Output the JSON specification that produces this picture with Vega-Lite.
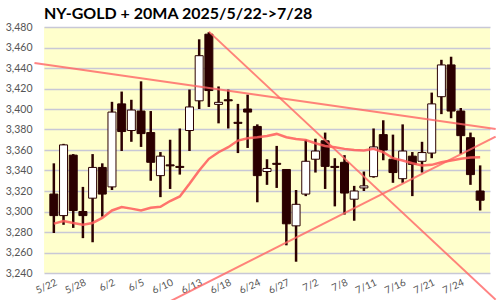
{
  "$schema": "https://vega.github.io/schema/vega-lite/v6.json",
  "width": 446,
  "height": 246,
  "autosize": {"type": "none"},
  "padding": {"left": 44, "top": 27, "right": 10, "bottom": 27},
  "background": "white",
  "title": {"text": "NY-GOLD + 20MA 2025/5/22->7/28", "anchor": "start", "frame": "group", "fontSize": 16, "fontWeight": "bold", "font": "Lato", "color": "#000000", "offset": 0},
  "config": {
    "view": {"fill": "#FFFFCC", "stroke": null},
    "axis": {"labelFont": "Lato", "labelFontSize": 11, "labelColor": "#555555", "ticks": false, "domain": false, "title": null},
    "axisX": {"labelAngle": -25, "labelAlign": "right", "labelBaseline": "top", "labelPadding": 4, "labelFontSize": 10, "labelOverlap": false, "labelBound": false, "grid": false},
    "axisY": {"grid": true, "gridColor": "#c8c8d6", "gridWidth": 1.5, "labelPadding": 12, "labelOverlap": false, "labelFontSize": 10.5}
  },
  "datasets": {
    "candles": [
      {"i": 0, "d": "5/22", "o": 3317, "h": 3347, "l": 3279, "c": 3296, "ma": 3288.2},
      {"i": 1, "d": "5/23", "o": 3296, "h": 3366, "l": 3287, "c": 3365, "ma": 3290.8},
      {"i": 2, "d": "5/27", "o": 3355, "h": 3356, "l": 3284, "c": 3301, "ma": 3288.8},
      {"i": 3, "d": "5/28", "o": 3300, "h": 3324, "l": 3274, "c": 3296, "ma": 3287.2},
      {"i": 4, "d": "5/29", "o": 3313, "h": 3356, "l": 3270, "c": 3343, "ma": 3288.8},
      {"i": 5, "d": "5/30", "o": 3343, "h": 3347, "l": 3295, "c": 3317, "ma": 3293.7},
      {"i": 6, "d": "6/2", "o": 3324, "h": 3407, "l": 3321, "c": 3397, "ma": 3301},
      {"i": 7, "d": "6/3", "o": 3405, "h": 3417, "l": 3359, "c": 3378, "ma": 3304.4},
      {"i": 8, "d": "6/4", "o": 3379, "h": 3409, "l": 3368, "c": 3399, "ma": 3302.8},
      {"i": 9, "d": "6/5", "o": 3398, "h": 3427, "l": 3363, "c": 3376, "ma": 3301},
      {"i": 10, "d": "6/6", "o": 3377, "h": 3398, "l": 3330, "c": 3348, "ma": 3303.7},
      {"i": 11, "d": "6/9", "o": 3335, "h": 3358, "l": 3314, "c": 3354, "ma": 3304.6},
      {"i": 12, "d": "6/10", "o": 3345.5, "h": 3370, "l": 3322, "c": 3344.5, "ma": 3310.2},
      {"i": 13, "d": "6/11", "o": 3344, "h": 3381, "l": 3336, "c": 3343, "ma": 3314.7},
      {"i": 14, "d": "6/12", "o": 3379, "h": 3419, "l": 3359, "c": 3402, "ma": 3327},
      {"i": 15, "d": "6/13", "o": 3408, "h": 3468, "l": 3400, "c": 3452, "ma": 3340},
      {"i": 16, "d": "6/16", "o": 3473, "h": 3475, "l": 3402, "c": 3418, "ma": 3351.4},
      {"i": 17, "d": "6/17", "o": 3404.5, "h": 3422, "l": 3386, "c": 3406.5, "ma": 3357.8},
      {"i": 18, "d": "6/18", "o": 3409, "h": 3419, "l": 3381, "c": 3408, "ma": 3362.7},
      {"i": 19, "d": "6/20", "o": 3387, "h": 3405, "l": 3357, "c": 3386, "ma": 3369.2},
      {"i": 20, "d": "6/23", "o": 3400, "h": 3414, "l": 3362, "c": 3397, "ma": 3371.4},
      {"i": 21, "d": "6/24", "o": 3383, "h": 3385, "l": 3309, "c": 3335, "ma": 3372.4},
      {"i": 22, "d": "6/25", "o": 3339, "h": 3351, "l": 3326, "c": 3342, "ma": 3373.7},
      {"i": 23, "d": "6/26", "o": 3347, "h": 3364, "l": 3323, "c": 3346, "ma": 3375.7},
      {"i": 24, "d": "6/27", "o": 3341, "h": 3341, "l": 3267, "c": 3288, "ma": 3372.4},
      {"i": 25, "d": "6/30", "o": 3286, "h": 3321, "l": 3251, "c": 3307, "ma": 3370.8},
      {"i": 26, "d": "7/1", "o": 3317, "h": 3370, "l": 3315, "c": 3349, "ma": 3369.8},
      {"i": 27, "d": "7/2", "o": 3351, "h": 3371, "l": 3338, "c": 3359, "ma": 3366.6},
      {"i": 28, "d": "7/3", "o": 3369, "h": 3377, "l": 3322, "c": 3344, "ma": 3364},
      {"i": 29, "d": "7/7", "o": 3344, "h": 3352, "l": 3305, "c": 3343, "ma": 3362.7},
      {"i": 30, "d": "7/8", "o": 3348, "h": 3355, "l": 3297, "c": 3318, "ma": 3361.1},
      {"i": 31, "d": "7/9", "o": 3312, "h": 3325, "l": 3291, "c": 3320, "ma": 3360.1},
      {"i": 32, "d": "7/10", "o": 3323, "h": 3339, "l": 3320, "c": 3325, "ma": 3359.5},
      {"i": 33, "d": "7/11", "o": 3334, "h": 3381, "l": 3333, "c": 3363, "ma": 3361.1},
      {"i": 34, "d": "7/14", "o": 3375, "h": 3389, "l": 3350, "c": 3360, "ma": 3357.8},
      {"i": 35, "d": "7/15", "o": 3351, "h": 3375, "l": 3328, "c": 3338, "ma": 3352},
      {"i": 36, "d": "7/16", "o": 3332, "h": 3385, "l": 3328, "c": 3359, "ma": 3349.7},
      {"i": 37, "d": "7/17", "o": 3354, "h": 3358, "l": 3315, "c": 3346, "ma": 3347.1},
      {"i": 38, "d": "7/18", "o": 3349, "h": 3368, "l": 3338, "c": 3357.5, "ma": 3344.9},
      {"i": 39, "d": "7/21", "o": 3357, "h": 3416, "l": 3352, "c": 3405, "ma": 3345.5},
      {"i": 40, "d": "7/22", "o": 3412, "h": 3448, "l": 3395, "c": 3443, "ma": 3348.1},
      {"i": 41, "d": "7/23", "o": 3443, "h": 3451, "l": 3391, "c": 3398, "ma": 3349.7},
      {"i": 42, "d": "7/24", "o": 3398, "h": 3401, "l": 3356, "c": 3374, "ma": 3351.4},
      {"i": 43, "d": "7/25", "o": 3372, "h": 3377, "l": 3326, "c": 3336, "ma": 3352.7},
      {"i": 44, "d": "7/28", "o": 3320, "h": 3345, "l": 3301, "c": 3311, "ma": 3353}
    ],
    "trend": [
      {"line": "A", "i": -2.0, "v": 3444.9},
      {"line": "A", "i": 45.6, "v": 3380.4},
      {"line": "B", "i": 16, "v": 3475.5},
      {"line": "B", "i": 45.6, "v": 3214},
      {"line": "C", "i": 11.5, "v": 3210},
      {"line": "C", "i": 45.6, "v": 3373}
    ]
  },
  "layer": [
    {
      "data": {"name": "candles"},
      "mark": {"type": "rule", "color": "#2b0000", "strokeWidth": 2.5},
      "encoding": {
        "x": {"field": "i", "type": "quantitative", "scale": {"domain": [-0.5, 44.5], "nice": false, "zero": false},
          "axis": {"values": [0, 3, 6, 9, 12, 15, 18, 21, 24, 27, 30, 33, 36, 39, 42], "labelOverlap": false, "labelExpr": "['5/22','5/28','6/2','6/5','6/10','6/13','6/18','6/24','6/27','7/2','7/8','7/11','7/16','7/21','7/24'][round(datum.value/3)]"}},
        "y": {"field": "l", "type": "quantitative", "scale": {"domain": [3240, 3480], "nice": false, "zero": false},
          "axis": {"values": [3240, 3260, 3280, 3300, 3320, 3340, 3360, 3380, 3400, 3420, 3440, 3460, 3480], "format": ",d", "labelOverlap": false}},
        "y2": {"field": "h"}
      }
    },
    {
      "data": {"name": "candles"},
      "mark": {"type": "bar", "size": 8, "stroke": "#2b0000", "strokeWidth": 1},
      "encoding": {
        "x": {"field": "i", "type": "quantitative",
          "axis": {"values": [0, 3, 6, 9, 12, 15, 18, 21, 24, 27, 30, 33, 36, 39, 42], "labelOverlap": false, "labelExpr": "['5/22','5/28','6/2','6/5','6/10','6/13','6/18','6/24','6/27','7/2','7/8','7/11','7/16','7/21','7/24'][round(datum.value/3)]"}},
        "y": {"field": "o", "type": "quantitative",
          "axis": {"values": [3240, 3260, 3280, 3300, 3320, 3340, 3360, 3380, 3400, 3420, 3440, 3460, 3480], "format": ",d", "labelOverlap": false}},
        "y2": {"field": "c"},
        "fill": {"condition": {"test": "datum.c >= datum.o", "value": "#ffffff"}, "value": "#2b0000"}
      }
    },
    {
      "data": {"name": "candles"},
      "mark": {"type": "line", "color": "#ff5a5a", "strokeWidth": 2.5, "opacity": 0.85},
      "encoding": {
        "x": {"field": "i", "type": "quantitative",
          "axis": {"values": [0, 3, 6, 9, 12, 15, 18, 21, 24, 27, 30, 33, 36, 39, 42], "labelOverlap": false, "labelExpr": "['5/22','5/28','6/2','6/5','6/10','6/13','6/18','6/24','6/27','7/2','7/8','7/11','7/16','7/21','7/24'][round(datum.value/3)]"}},
        "y": {"field": "ma", "type": "quantitative",
          "axis": {"values": [3240, 3260, 3280, 3300, 3320, 3340, 3360, 3380, 3400, 3420, 3440, 3460, 3480], "format": ",d", "labelOverlap": false}}
      }
    },
    {
      "data": {"name": "trend"},
      "mark": {"type": "line", "color": "#ff6464", "strokeWidth": 2, "opacity": 0.8, "clip": false},
      "encoding": {
        "x": {"field": "i", "type": "quantitative",
          "axis": {"values": [0, 3, 6, 9, 12, 15, 18, 21, 24, 27, 30, 33, 36, 39, 42], "labelOverlap": false, "labelExpr": "['5/22','5/28','6/2','6/5','6/10','6/13','6/18','6/24','6/27','7/2','7/8','7/11','7/16','7/21','7/24'][round(datum.value/3)]"}},
        "y": {"field": "v", "type": "quantitative",
          "axis": {"values": [3240, 3260, 3280, 3300, 3320, 3340, 3360, 3380, 3400, 3420, 3440, 3460, 3480], "format": ",d", "labelOverlap": false}},
        "detail": {"field": "line"}
      }
    }
  ]
}
